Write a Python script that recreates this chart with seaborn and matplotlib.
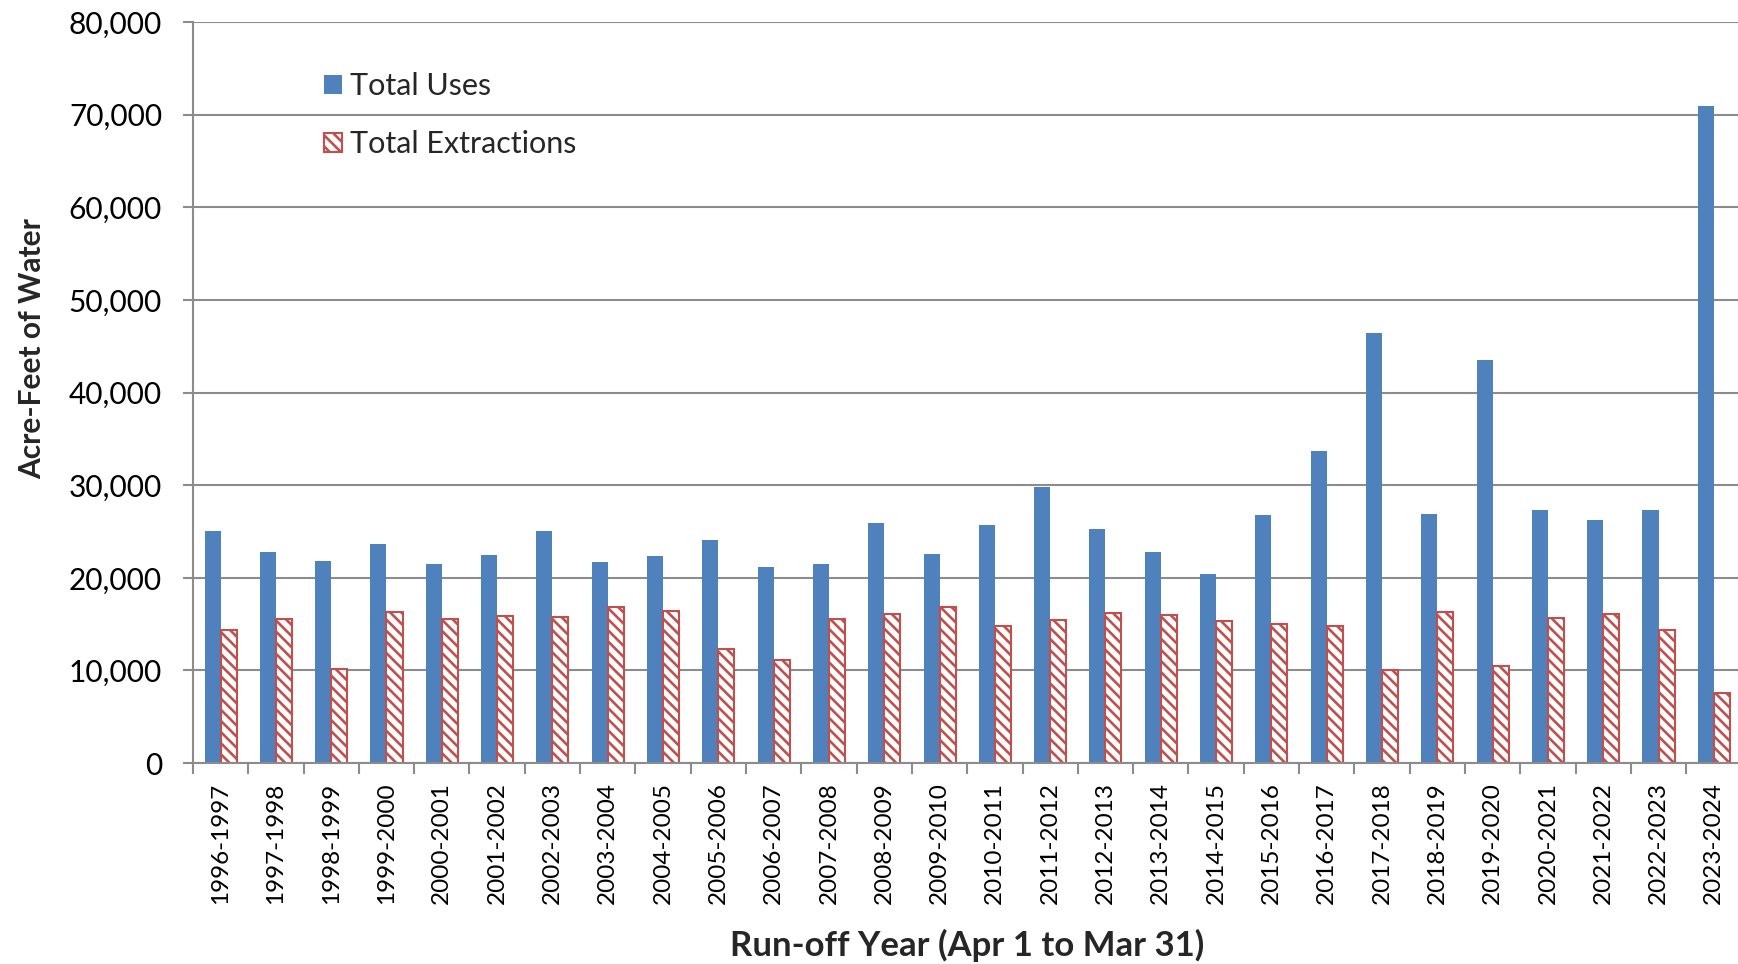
import numpy
import pandas
import seaborn
import matplotlib.pyplot as pyplot
from matplotlib.ticker import FuncFormatter, FixedLocator

seaborn.set_theme(style="white")
pyplot.rcParams["font.family"] = ["Lato", "DejaVu Sans"]
pyplot.rcParams["hatch.linewidth"] = 1.9

Years = ["1996-1997", "1997-1998", "1998-1999", "1999-2000", "2000-2001", "2001-2002",
         "2002-2003", "2003-2004", "2004-2005", "2005-2006", "2006-2007", "2007-2008",
         "2008-2009", "2009-2010", "2010-2011", "2011-2012", "2012-2013", "2013-2014",
         "2014-2015", "2015-2016", "2016-2017", "2017-2018", "2018-2019", "2019-2020",
         "2020-2021", "2021-2022", "2022-2023", "2023-2024"]
TotalUses = [25000, 22800, 21800, 23700, 21500, 22500, 25100, 21700, 22400, 24100,
             21200, 21500, 25900, 22600, 25700, 29800, 25300, 22800, 20400, 26800,
             33700, 46400, 26900, 43500, 27300, 26200, 27300, 70900]
TotalExtractions = [14400, 15600, 10100, 16300, 15600, 15900, 15800, 16800, 16400, 12300,
                    11100, 15500, 16100, 16800, 14800, 15400, 16200, 16000, 15300, 15000,
                    14800, 10000, 16300, 10500, 15700, 16100, 14400, 7600]

Frame = pandas.DataFrame({
    "Year": Years * 2,
    "Value": TotalUses + TotalExtractions,
    "Series": ["Total Uses"] * len(Years) + ["Total Extractions"] * len(Years),
})

fig = pyplot.figure(figsize=(17.38, 9.64), dpi=100)
ax = fig.add_axes([0.111, 0.2085, 0.891, 0.7685])

seaborn.barplot(data=Frame, x="Year", y="Value", hue="Series", order=Years,
                hue_order=["Total Uses", "Total Extractions"],
                palette=["#4F81BD", "#C0504D"], saturation=1, width=0.58, gap=0,
                errorbar=None, linewidth=0, ax=ax)

for Bar in ax.containers[1]:
    Bar.set_facecolor("white")
    Bar.set_edgecolor("#C0504D")
    Bar.set_linewidth(1.5)
    Bar.set_hatch("\\\\\\")

ax.set_ylim(0, 80000)
ax.set_xlim(-0.5, len(Years) - 0.5)
ax.set_yticks(range(0, 80001, 10000))
ax.yaxis.set_major_formatter(FuncFormatter(lambda v, p: f"{int(v):,}"))
ax.grid(axis="y", color="#8C8C8C", linewidth=1.5)
ax.set_axisbelow(True)

for Side in ["top", "right"]:
    ax.spines[Side].set_visible(False)
for Side in ["left", "bottom"]:
    ax.spines[Side].set_color("#8C8C8C")
    ax.spines[Side].set_linewidth(1.5)

ax.tick_params(axis="y", which="major", left=True, length=7.2, width=1.5, color="#8C8C8C",
               labelsize=21.5, labelcolor="black", pad=15)
ax.tick_params(axis="x", which="major", bottom=False, length=0, labelsize=17.5,
               labelrotation=90, labelcolor="black", pad=14)
ax.xaxis.set_minor_locator(FixedLocator(numpy.arange(-0.5, len(Years), 1.0)))
ax.tick_params(axis="x", which="minor", bottom=True, length=8, width=1.5, color="#8C8C8C")

ax.set_xlabel("Run-off Year (Apr 1 to Mar 31)", fontsize=25, fontweight="bold", va="center")
ax.xaxis.set_label_coords(0.5, -0.2456)
ax.set_ylabel("Acre-Feet of Water", fontsize=21.5, fontweight="bold", va="center")
ax.yaxis.set_label_coords(-0.104, 0.559)

ax.legend(handles=[ax.containers[0], ax.containers[1]],
          labels=["Total Uses", "Total Extractions"],
          loc="upper left", bbox_to_anchor=(0.067, 0.9695), frameon=False,
          fontsize=22, handlelength=0.58, handleheight=0.58, handletextpad=0.26,
          labelspacing=0.97)

fig.savefig("out.png", dpi=100)
